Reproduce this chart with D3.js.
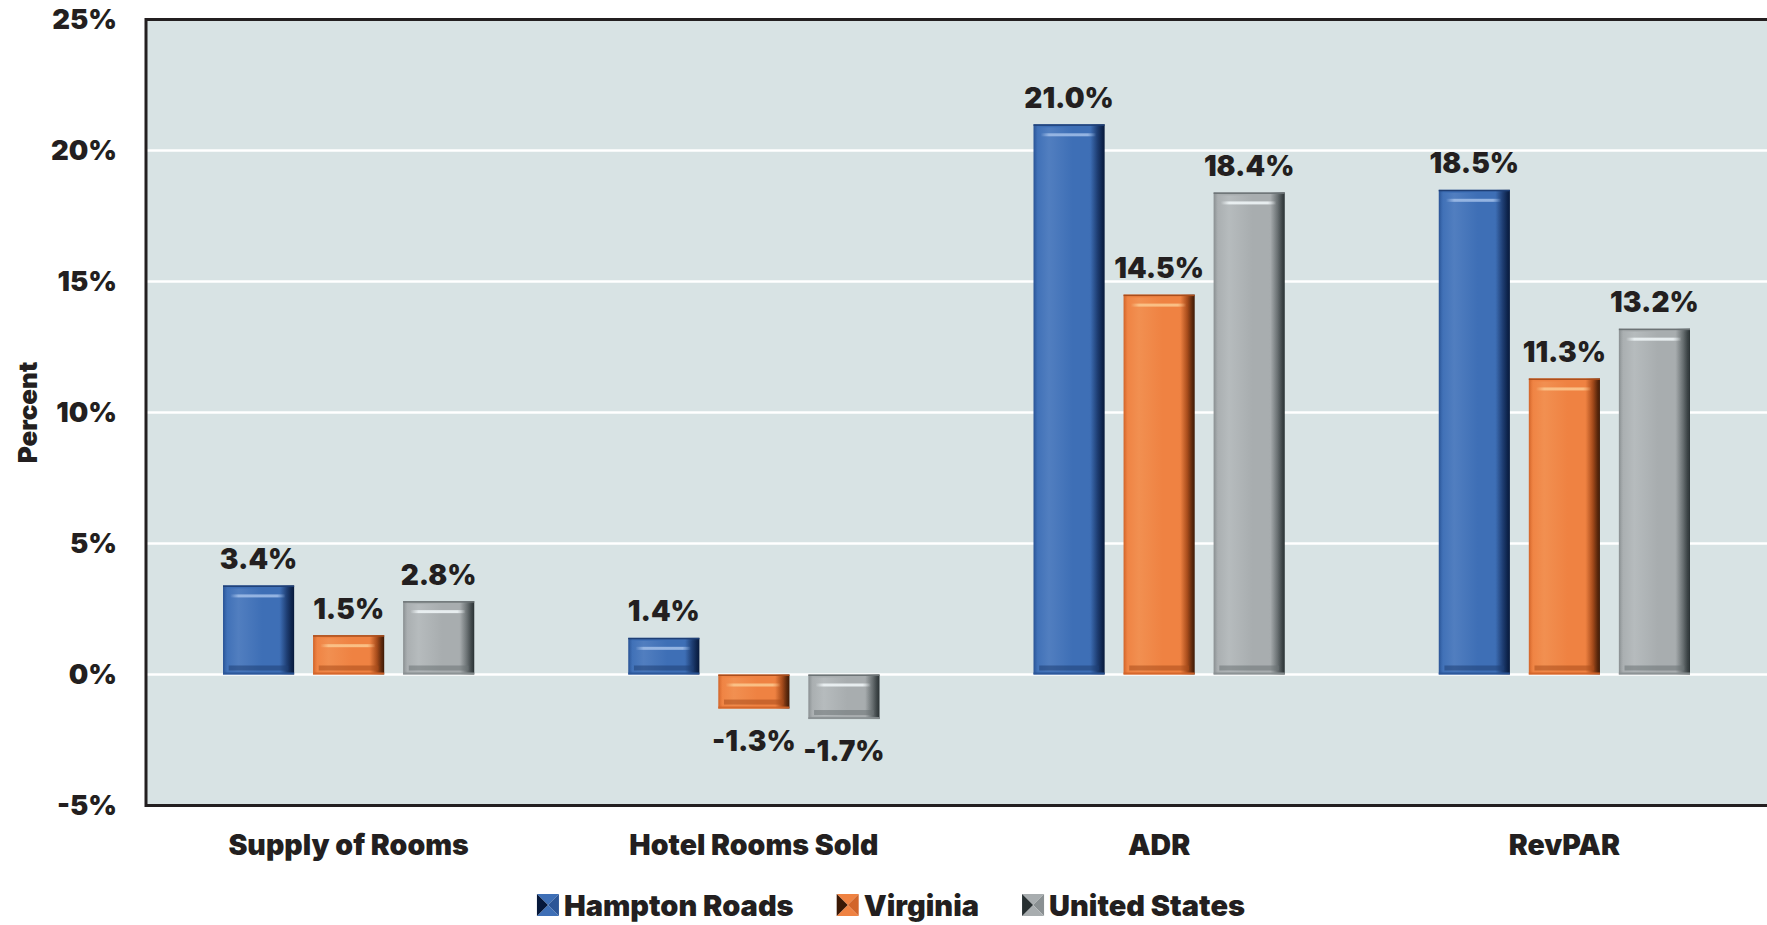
<!DOCTYPE html>
<html>
<head>
<meta charset="utf-8">
<script src="https://cdn.jsdelivr.net/npm/d3@7"></script>
<style>
  html, body { margin: 0; padding: 0; background: #ffffff; }
  svg { display: block; }
  text { font-family: Inter, Lato, "Open Sans", sans-serif; font-weight: 900; fill: #231f20; }
</style>
</head>
<body>
<svg id="chart" width="1767" height="925"></svg>
<script>
// Hotel performance: percent change by measure and area
const categories = ["Supply of Rooms", "Hotel Rooms Sold", "ADR", "RevPAR"];
const seriesNames = ["Hampton Roads", "Virginia", "United States"];
const hamptonRoads = [3.4, 1.4, 21.0, 18.5];
const virginia = [1.5, -1.3, 14.5, 11.3];
const unitedStates = [2.8, -1.7, 18.4, 13.2];
const yTicks = [-5, 0, 5, 10, 15, 20, 25];

const seriesValues = [hamptonRoads, virginia, unitedStates];
const palette = {
  "Hampton Roads": { base: "#3e6fb6", edge: "#2b5597", dark: "#06183a", hi: "#9dbbe6", low: "#1f3f75" },
  "Virginia":      { base: "#ef8242", edge: "#d2652a", dark: "#3a1805", hi: "#fbc68c", low: "#a94d1c" },
  "United States": { base: "#a8adaf", edge: "#8a9092", dark: "#283032", hi: "#eef4f6", low: "#6c7375" }
};

const svg = d3.select("#chart");
const plot = { left: 146, right: 1767, top: 19.5, bottom: 805.5 };

const y = d3.scaleLinear().domain([-5, 25]).range([plot.bottom, plot.top]);
const x0 = d3.scaleBand().domain(categories).range([plot.left, plot.right]);
const inset = 77;
const x1 = d3.scaleBand().domain(seriesNames)
  .range([inset, x0.bandwidth() - inset]).paddingInner(0.21);

// gradients for the bevelled bars
const defs = svg.append("defs");
seriesNames.forEach((s, i) => {
  const c = palette[s];
  const g = defs.append("linearGradient").attr("id", "hg" + i)
    .attr("x1", "0").attr("x2", "1").attr("y1", "0").attr("y2", "0");
  [[0, c.edge], [0.06, c.base], [0.5, c.base], [0.8, c.base], [0.9, c.low], [1, c.dark]]
    .forEach(([o, col]) => g.append("stop").attr("offset", o).attr("stop-color", col));
  const lg = defs.append("linearGradient").attr("id", "lg" + i)
    .attr("x1", "0").attr("x2", "1").attr("y1", "0").attr("y2", "0");
  [[0, c.base], [0.2, c.hi], [0.55, c.base], [0.8, c.base], [0.9, c.low], [1, c.dark]]
    .forEach(([o, col]) => lg.append("stop").attr("offset", o).attr("stop-color", col));
  const hl = defs.append("linearGradient").attr("id", "hl" + i)
    .attr("x1", "0").attr("x2", "1").attr("y1", "0").attr("y2", "0");
  [[0, c.hi, 0], [0.15, c.hi, 0.9], [0.85, c.hi, 0.9], [1, c.hi, 0]]
    .forEach(([o, col, op]) => hl.append("stop").attr("offset", o).attr("stop-color", col).attr("stop-opacity", op));
});

// plot background
svg.append("rect")
  .attr("x", plot.left).attr("y", plot.top)
  .attr("width", plot.right - plot.left).attr("height", plot.bottom - plot.top)
  .attr("fill", "#d8e3e4");

// horizontal gridlines
svg.append("g").selectAll("line")
  .data(yTicks.filter(t => t > -5 && t < 25))
  .join("line")
  .attr("x1", plot.left).attr("x2", plot.right)
  .attr("y1", d => y(d)).attr("y2", d => y(d))
  .attr("stroke", "#ffffff").attr("stroke-width", 2.5);

// frame: left, top and bottom edges
const frame = svg.append("g").attr("stroke", "#231f20").attr("stroke-width", 3).attr("fill", "none");
frame.append("line").attr("x1", plot.left).attr("x2", plot.left).attr("y1", plot.top - 1.5).attr("y2", plot.bottom + 1.5);
frame.append("line").attr("x1", plot.left).attr("x2", plot.right).attr("y1", plot.top).attr("y2", plot.top);
frame.append("line").attr("x1", plot.left).attr("x2", plot.right).attr("y1", plot.bottom).attr("y2", plot.bottom);

// y tick labels
svg.append("g").selectAll("text")
  .data(yTicks)
  .join("text")
  .attr("x", 117).attr("y", d => y(d)).attr("dy", "0.36em")
  .attr("text-anchor", "end")
  .attr("font-size", 27.5)
  .text(d => d + "%");

// y axis title
svg.append("text")
  .attr("transform", `translate(37,${(plot.top + plot.bottom) / 2}) rotate(-90)`)
  .attr("text-anchor", "middle")
  .attr("font-size", 26)
  .text("Percent");

// bars
const rows = [];
categories.forEach((cat, ci) => {
  seriesNames.forEach((s, si) => rows.push({ cat, s, si, v: seriesValues[si][ci] }));
});

const bars = svg.append("g").selectAll("g.bar")
  .data(rows)
  .join("g").attr("class", "bar")
  .attr("transform", d => `translate(${x0(d.cat) + x1(d.s)},0)`);

const bw = x1.bandwidth();
const barTop = d => y(Math.max(0, d.v));
const barH = d => Math.abs(y(d.v) - y(0));

bars.append("rect")
  .attr("x", 0).attr("y", barTop).attr("width", bw).attr("height", barH)
  .attr("fill", d => `url(#hg${d.si})`);
// soft vertical shading band in the body
bars.append("rect")
  .attr("x", 2).attr("y", d => barTop(d) + 3).attr("width", bw - 4).attr("height", d => Math.max(0, barH(d) - 6))
  .attr("fill", d => `url(#lg${d.si})`).attr("opacity", 0.2);
// dark top edge
bars.append("rect")
  .attr("x", 0).attr("y", barTop).attr("width", bw).attr("height", 1.5)
  .attr("fill", d => palette[d.s].low);
// top highlight strip
bars.append("rect")
  .attr("x", bw * 0.1).attr("y", d => barTop(d) + Math.min(9, barH(d) * 0.3))
  .attr("width", bw * 0.78).attr("height", 3)
  .attr("fill", d => `url(#hl${d.si})`);
// darker lower band and light bottom lip
bars.append("rect")
  .attr("x", bw * 0.08).attr("y", d => barTop(d) + barH(d) - Math.min(9, barH(d) * 0.3))
  .attr("width", bw * 0.84).attr("height", d => Math.min(5, barH(d) * 0.15))
  .attr("fill", d => palette[d.s].low).attr("opacity", 0.55);
bars.append("rect")
  .attr("x", 0).attr("y", d => barTop(d) + barH(d) - 2).attr("width", bw).attr("height", 2)
  .attr("fill", d => palette[d.s].edge).attr("opacity", 0.9);

// value labels
svg.append("g").selectAll("text")
  .data(rows)
  .join("text")
  .attr("x", d => x0(d.cat) + x1(d.s) + bw / 2)
  .attr("y", d => d.v >= 0 ? y(d.v) - 16.5 : y(d.v) + 42)
  .attr("text-anchor", "middle")
  .attr("font-size", 28)
  .text(d => d.v.toFixed(1) + "%");

// category labels
svg.append("g").selectAll("text")
  .data(categories)
  .join("text")
  .attr("x", d => x0(d) + x0.bandwidth() / 2)
  .attr("y", 855)
  .attr("text-anchor", "middle")
  .attr("font-size", 28.5)
  .text(d => d);

// legend
const legend = svg.append("g");
const items = legend.selectAll("g").data(seriesNames).join("g");
const box = 22;
items.each(function (s) {
  const g = d3.select(this);
  const c = palette[s];
  // bevelled square marker
  const tri = [
    { pts: [[0, 0], [box, 0], [box / 2, box / 2]], col: c.base },
    { pts: [[box, 0], [box, box], [box / 2, box / 2]], col: c.edge },
    { pts: [[0, box], [box, box], [box / 2, box / 2]], col: c.base },
    { pts: [[0, 0], [0, box], [box / 2, box / 2]], col: c.dark }
  ];
  g.selectAll("path").data(tri).join("path")
    .attr("d", t => "M" + t.pts.map(p => p.join(",")).join("L") + "Z")
    .attr("fill", t => t.col);
  g.append("text").attr("x", box + 5).attr("y", box).attr("font-size", 29).text(s);
});
const widths = [];
items.each(function () {
  widths.push(box + 5 + d3.select(this).select("text").node().getComputedTextLength());
});
const gap = 43;
const total = d3.sum(widths) + gap * (widths.length - 1);
const start = 891 - total / 2;
let cursor = 0;
items.attr("transform", (d, i) => {
  const tx = start + cursor;
  cursor += widths[i] + gap;
  return `translate(${tx},894)`;
});
</script>
</body>
</html>
